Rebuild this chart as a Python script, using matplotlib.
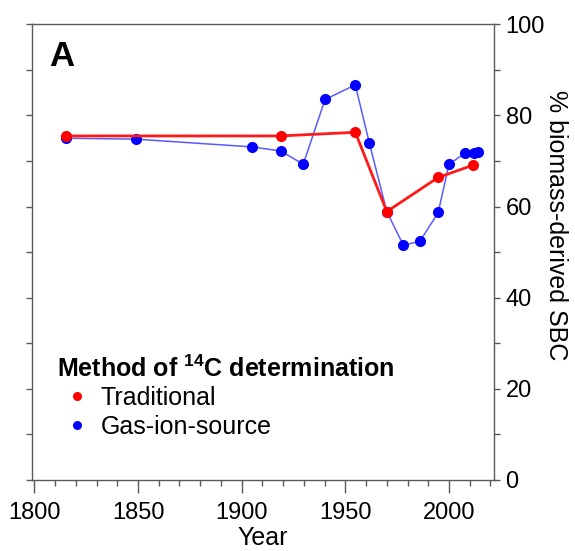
import matplotlib
matplotlib.use("Agg")
import matplotlib.pyplot as plt
from matplotlib.lines import Line2D
from matplotlib.ticker import MultipleLocator

plt.rcParams['font.family'] = ['Liberation Sans', 'DejaVu Sans']
plt.rcParams['mathtext.fontset'] = 'custom'
plt.rcParams['mathtext.rm'] = 'Liberation Sans'
plt.rcParams['mathtext.bf'] = 'Liberation Sans:bold'

# traditional 14C determination
trad_year = [1815.3, 1918.8, 1954.8, 1970.0, 1994.8, 2011.7]
trad_pct = [75.5, 75.5, 76.3, 58.9, 66.4, 69.1]

# gas-ion-source 14C determination
gis_year = [1815.3, 1848.9, 1904.8, 1918.8, 1929.7, 1940.2, 1954.8, 1961.6,
            1970.0, 1978.0, 1986.0, 1994.8, 2000.0, 2007.7, 2012.2, 2014.1]
gis_pct = [75.0, 74.8, 73.1, 72.2, 69.3, 83.5, 86.7, 73.9,
           58.9, 51.5, 52.4, 58.7, 69.3, 71.7, 71.7, 72.0]

spine_col = '#5a5a5a'

fig = plt.figure(figsize=(5.75, 5.51), dpi=100)
ax = fig.add_axes([0.0551, 0.1289, 0.804, 0.827])

ax.plot(gis_year, gis_pct, '-', color='#5a5aff', lw=1.1, zorder=2)
ax.plot(gis_year, gis_pct, 'o', color='#0000ff', ms=8, mec='none', zorder=3)
ax.plot(trad_year, trad_pct, '-', color='#ff1a1a', lw=2.0, zorder=4)
ax.plot(trad_year, trad_pct, 'o', color='#ff0000', ms=8, mec='none', zorder=5)

ax.set_xlim(1798.7, 2021.7)
ax.set_ylim(0, 100)

for s in ax.spines.values():
    s.set_color(spine_col)
    s.set_linewidth(1.0)

ax.xaxis.set_major_locator(MultipleLocator(50))
ax.xaxis.set_minor_locator(MultipleLocator(10))
ax.tick_params(axis='x', which='major', length=9.5, width=1, color=spine_col,
               labelsize=17, pad=6)
ax.tick_params(axis='x', which='minor', length=4.3, width=1, color=spine_col)

ax.yaxis.set_major_locator(MultipleLocator(20))
ax.yaxis.set_minor_locator(MultipleLocator(10))
ax.tick_params(axis='y', which='both', left=True, right=True, labelleft=False,
               labelright=True, length=4.3, width=1, color=spine_col,
               labelsize=17, pad=4)

ax.set_xlabel('Year', fontsize=18, labelpad=2)
ax.yaxis.set_label_position('right')
ax.set_ylabel('% biomass-derived SBC', fontsize=18, rotation=270,
              ha='center', va='center')
ax.yaxis.set_label_coords(1.134, 0.56)

ax.text(0.038, 0.965, 'A', transform=ax.transAxes, fontsize=25,
        fontweight='bold', ha='left', va='top')

handles = [Line2D([], [], ls='none', marker='o', color='#ff0000', ms=6.5, mec='none'),
           Line2D([], [], ls='none', marker='o', color='#0000ff', ms=6.5, mec='none')]
leg = ax.legend(handles, ['Traditional', 'Gas-ion-source'],
                title=r'Method of $^{\mathbf{14}}$C determination',
                loc='upper left', bbox_to_anchor=(0.054, 0.274), frameon=False,
                fontsize=18, title_fontproperties={'size': 18, 'weight': 'bold'},
                alignment='left', borderpad=0, handlelength=1.65,
                handletextpad=0.1, labelspacing=0.2, borderaxespad=0)
leg._legend_box.sep = 3

fig.savefig('out.png', dpi=100)
